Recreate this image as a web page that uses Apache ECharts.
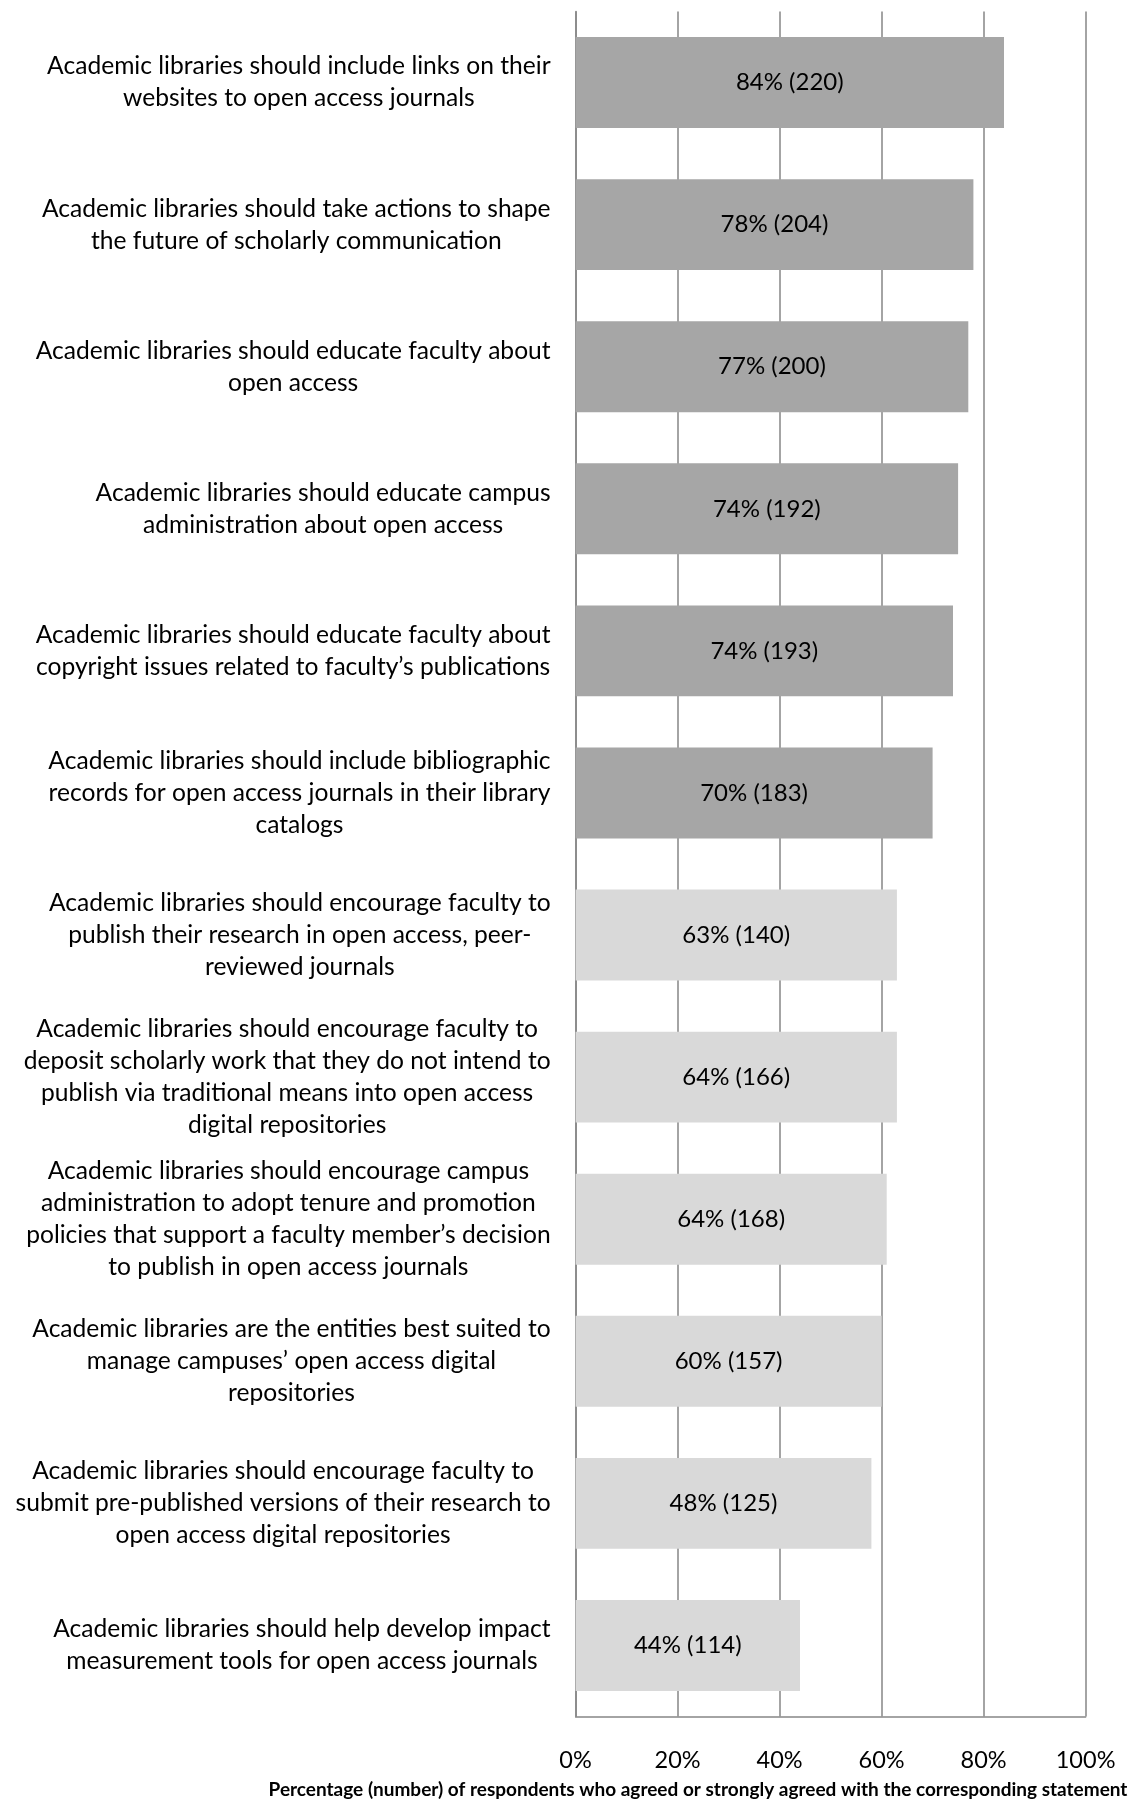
<!DOCTYPE html>
<html>
<head>
<meta charset="utf-8">
<script src="https://cdn.jsdelivr.net/npm/echarts@6/dist/echarts.min.js"></script>
<style>
html,body{margin:0;padding:0;background:#fff;}
#chart{width:1134px;height:1802px;}
</style>
</head>
<body>
<div id="chart"></div>
<script>
const categories = [
  "Academic libraries should include links on their\nwebsites to open access journals",
  "Academic libraries should take actions to shape\nthe future of scholarly communication",
  "Academic libraries should educate faculty about\nopen access",
  "Academic libraries should educate campus\nadministration about open access",
  "Academic libraries should educate faculty about\ncopyright issues related to faculty\u2019s publications",
  "Academic libraries should include bibliographic\nrecords for open access journals in their library\ncatalogs",
  "Academic libraries should encourage faculty to\npublish their research in open access, peer-\nreviewed journals",
  "Academic libraries should encourage faculty to\ndeposit scholarly work that they do not intend to\npublish via traditional means into open access\ndigital repositories",
  "Academic libraries should encourage campus\nadministration to adopt tenure and promotion\npolicies that support a faculty member\u2019s decision\nto publish in open access journals",
  "Academic libraries are the entities best suited to\nmanage campuses\u2019 open access digital\nrepositories",
  "Academic libraries should encourage faculty to\nsubmit pre-published versions of their research to\nopen access digital repositories",
  "Academic libraries should help develop impact\nmeasurement tools for open access journals"
];
// bar lengths as drawn (percent)
const barValues = [84, 78, 77, 75, 74, 70, 63, 63, 61, 60, 58, 44];
// printed labels
const pctLabels = ["84%", "78%", "77%", "74%", "74%", "70%", "63%", "64%", "64%", "60%", "48%", "44%"];
const countLabels = [220, 204, 200, 192, 193, 183, 140, 166, 168, 157, 125, 114];
const xTicks = [0, 20, 40, 60, 80, 100];
const axisTitle = "Percentage (number) of respondents who agreed or strongly agreed with the corresponding statement";
const darkCount = 6;

const FONT = 'Lato';
const chart = echarts.init(document.getElementById('chart'), null, {renderer: 'canvas'});
const option = {
  animation: false,
  backgroundColor: '#ffffff',
  grid: {left: 575.6, right: 48.4, top: 11.5, bottom: 85.5, containLabel: false},
  xAxis: {
    type: 'value',
    min: xTicks[0],
    max: xTicks[xTicks.length - 1],
    interval: xTicks[1] - xTicks[0],
    axisLine: {show: true, lineStyle: {color: '#868686', width: 1.5}},
    axisTick: {show: false},
    splitLine: {show: true, lineStyle: {color: '#868686', width: 1.5}},
    axisLabel: {
      formatter: v => v + '%',
      fontFamily: FONT, fontSize: 23.5, color: '#000', margin: 32
    }
  },
  yAxis: {
    type: 'category',
    inverse: true,
    data: categories,
    axisLine: {show: true, lineStyle: {color: '#868686', width: 1.5}},
    axisTick: {show: false},
    axisLabel: {
      margin: 25,
      align: 'right',
      formatter: v => v.split('\n').map(l => '{c|' + l + '}').join('\n'),
      rich: {
        c: {align: 'center', fontFamily: FONT, fontSize: 24.6, lineHeight: 32, color: '#000'}
      }
    }
  },
  series: [{
    type: 'bar',
    data: barValues,
    barCategoryGap: '36%',
    itemStyle: {
      color: p => p.dataIndex < darkCount ? '#A6A6A6' : '#D9D9D9'
    },
    label: {
      show: true,
      position: 'inside',
      fontFamily: FONT, fontSize: 24, color: '#000',
      formatter: p => pctLabels[p.dataIndex] + ' (' + countLabels[p.dataIndex] + ')'
    }
  }],
  graphic: [{
    type: 'text',
    x: 698, y: 1790,
    style: {
      text: axisTitle,
      fontFamily: FONT, fontWeight: 'bold', fontSize: 19, fill: '#000',
      align: 'center', verticalAlign: 'middle'
    }
  }]
};
chart.setOption(option);
</script>
</body>
</html>
